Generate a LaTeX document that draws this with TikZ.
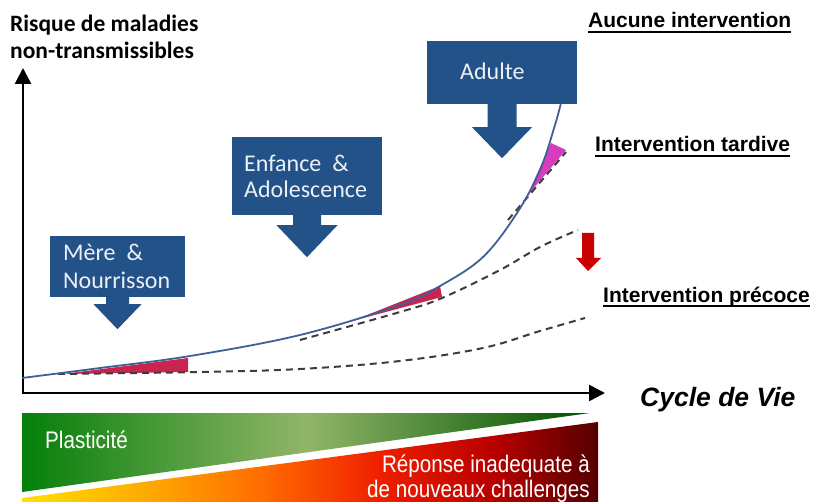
\documentclass[tikz,border=0pt]{standalone}
\usepackage{fontspec}
\setmainfont{Liberation Sans}
\newfontfamily\calibri{Carlito}
\newfontfamily\narrowsans[FakeStretch=0.86]{Liberation Sans}
\usetikzlibrary{arrows.meta}
\definecolor{boxblue}{RGB}{35,82,136}
\definecolor{boxtext}{RGB}{236,240,247}
\definecolor{curveblue}{RGB}{62,96,150}
\definecolor{wedgered}{RGB}{200,36,78}
\definecolor{wedgemag}{RGB}{215,60,190}
\definecolor{arrowred}{RGB}{200,0,0}
\definecolor{dashgray}{RGB}{60,60,60}
\pgfdeclarehorizontalshading{greenband}{100bp}{rgb(0bp)=(0.02,0.50,0.04); rgb(25bp)=(0.02,0.50,0.04); rgb(50bp)=(0.57,0.71,0.41); rgb(75bp)=(0,0.32,0); rgb(100bp)=(0,0.32,0)}
\pgfdeclarehorizontalshading{redband}{100bp}{rgb(0bp)=(1,0.88,0); rgb(25bp)=(1,0.88,0); rgb(36bp)=(1,0.66,0); rgb(46bp)=(1,0.42,0); rgb(56bp)=(0.94,0.12,0); rgb(66bp)=(0.72,0,0); rgb(75bp)=(0.33,0,0); rgb(100bp)=(0.33,0,0)}
\tikzset{
  stagebox/.style={fill=boxblue, draw=none, inner sep=0pt},
  stagetext/.style={text=boxtext, font=\calibri\fontsize{24}{28}\selectfont, inner sep=0pt, anchor=base west},
  scenario/.style={font=\bfseries\fontsize{21}{24}\selectfont, inner sep=0pt, anchor=base west},
  dashcurve/.style={draw=dashgray, line width=2pt, dash pattern=on 7pt off 5pt},
  axisline/.style={line width=2.5pt, {Triangle[length=16pt,width=16pt]}-{Triangle[length=16pt,width=16pt]}},
  bandtext/.style={text=white, font=\narrowsans\fontsize{24}{28}\selectfont, inner sep=0pt},
  ylabel/.style={font=\calibri\bfseries\fontsize{23.5}{27}\selectfont, inner sep=0pt, anchor=base west}
}
\newcommand\boxarrow[5]{\fill[boxblue] ([xshift=-#2pt, yshift=0.5pt]#1.south) -- ++(0,#3+0.5) -- ++({#2-#4},0) -- ++(#4,#5) -- ++(#4,-#5) -- ++({#2-#4},0) -- ++(0,{-#3-0.5}) -- cycle;}
\begin{document}
\begin{tikzpicture}[x=1pt,y=-1pt]
\useasboundingbox (0,0) rectangle (813,502);
% axis label
\node[ylabel] (ylab1) at (10,32) {Risque de maladies};
\node[ylabel] (ylab2) at (10,59) {non-transmissibles};
% axes
\coordinate (yt) at (23,68);
\coordinate (o) at (23,393);
\coordinate (xt) at (605,393);
\draw[axisline] (yt) -- (o) -- (xt);
\node[font=\bfseries\itshape\fontsize{26.5}{30}\selectfont, inner sep=0pt, anchor=base west] (xlab) at (640,406) {Cycle de Vie};
% wedges
\fill[wedgered] (63,374) -- (188,358) -- (188,372) -- cycle;
\fill[wedgered] (352,321) -- (440,286) -- (442,297) -- cycle;
\fill[wedgemag] (527,196) -- (551,143) -- (566,150) -- cycle;
% dashed curves
\draw[dashcurve] plot[smooth, tension=0.6] coordinates {(58,374) (200,372) (300,369) (400,361) (483,348) (540,331) (585,318)};
\draw[dashcurve] plot[smooth, tension=0.6] coordinates {(300,340) (400,312) (442,298) (500,270) (540,247) (578,230)};
\draw[dashcurve] (508,220) -- (566,152);
% main curve
\draw[curveblue, line width=1.8pt] plot[smooth, tension=0.6] coordinates {(22,378) (100,368) (190,356) (300,335) (400,305) (440,286) (483,257) (517,213) (540,170) (555,125) (563,95) (568,75)};
% stage boxes
\node[stagebox, minimum width=135pt, minimum height=61pt] (mere) at (117.5,266.5) {};
\boxarrow{mere}{11.5}{7}{24}{25}
\node[stagetext] (meret1) at (63,261) {Mère~~\&};
\node[stagetext] (meret2) at (63,289) {Nourrisson};
\node[stagebox, minimum width=150pt, minimum height=78pt] (enf) at (307,176) {};
\boxarrow{enf}{14}{10}{30.5}{32}
\node[stagetext] (enft1) at (244,172) {Enfance~~\&};
\node[stagetext] (enft2) at (244,198) {Adolescence};
\node[stagebox, minimum width=150pt, minimum height=63pt] (adu) at (502,72.5) {};
\boxarrow{adu}{14.5}{23}{30}{31}
\node[stagetext] (adut) at (460,80) {Adulte};
% red arrow
\fill[arrowred] (582,233) -- (594,233) -- (594,258) -- (601,258) -- (588,271) -- (576,258) -- (582,258) -- cycle;
% scenario labels
\node[scenario] (l1) at (588,28) {Aucune intervention};
\draw[line width=1.6pt] ([yshift=-4pt]l1.base west) -- ([yshift=-4pt]l1.base east);
\node[scenario] (l2) at (595,152) {Intervention tardive};
\draw[line width=1.6pt] ([yshift=-4pt]l2.base west) -- ([yshift=-4pt]l2.base east);
\node[scenario] (l3) at (603,302) {Intervention précoce};
\draw[line width=1.6pt] ([yshift=-4pt]l3.base west) -- ([yshift=-4pt]l3.base east);
% bottom bands
\shade[shading=greenband] (22,413) -- (590,413) -- (22,492) -- cycle;
\shade[shading=redband] (22,498) -- (598,422) -- (598,502) -- (22,502) -- cycle;
\node[bandtext, anchor=base west] (plast) at (45,448) {Plasticité};
\node[bandtext, anchor=base east] (rep1) at (590,472) {Réponse inadequate à};
\node[bandtext, anchor=base east] (rep2) at (590,497) {de nouveaux challenges};
\end{tikzpicture}
\end{document}
